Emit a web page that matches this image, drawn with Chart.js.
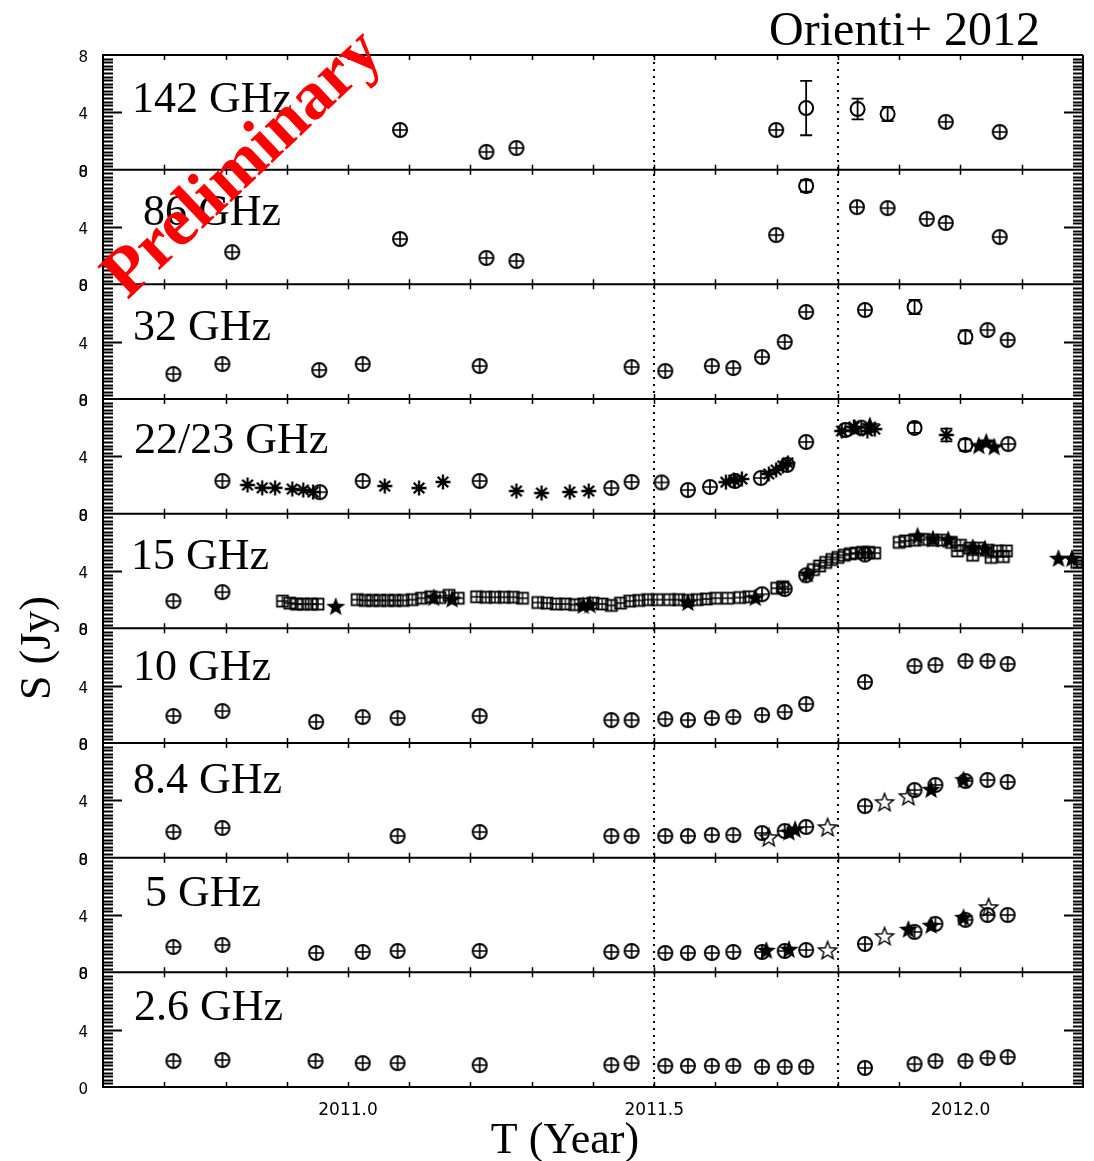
<!DOCTYPE html>
<html><head><meta charset="utf-8">
<script src="https://cdn.jsdelivr.net/npm/chart.js@4/dist/chart.umd.min.js"></script>
<style>html,body{margin:0;padding:0;background:#fff;overflow:hidden}#wrap{position:relative;width:1094px;height:1161px}</style>
</head><body><div id="wrap"><canvas id="c"></canvas></div>
<script>
// ---------- tick labels / annotations ----------
const xTickValues = [2011.0, 2011.5, 2012.0];
const markerYears = [2011.5, 2011.8];
const panelLabels = ['142 GHz','86 GHz','32 GHz','22/23 GHz','15 GHz','10 GHz','8.4 GHz','5 GHz','2.6 GHz'];

// ---------- data: [year, flux Jy, (error)] ----------
const s142_circ = [[2011.085,2.77],[2011.226,1.24],[2011.275,1.51],[2011.699,2.77],[2011.976,3.33],[2012.064,2.63]];
const s142_err  = [[2011.748,4.30,1.90],[2011.832,4.23,0.72],[2011.881,3.88,0.50]];

const s86_circ = [[2010.811,2.25],[2011.085,3.16],[2011.226,1.84],[2011.275,1.63],[2011.699,3.44],[2011.831,5.39],[2011.881,5.32],[2011.945,4.56],[2011.976,4.28],[2012.064,3.30]];
const s86_err  = [[2011.748,6.86,0.40]];

const s32_circ = [[2010.715,1.74],[2010.795,2.44],[2010.953,2.02],[2011.024,2.44],[2011.215,2.30],[2011.463,2.23],[2011.518,1.95],[2011.594,2.30],[2011.629,2.16],[2011.676,2.93],[2011.713,3.98],[2011.748,6.07],[2011.844,6.21],[2012.044,4.81],[2012.077,4.12]];
const s32_err  = [[2011.925,6.42,0.50],[2012.008,4.33,0.45]];

const s22_circ = [[2010.795,2.28],[2010.954,1.50],[2011.024,2.28],[2011.215,2.28],[2011.430,1.79],[2011.463,2.21],[2011.512,2.18],[2011.555,1.65],[2011.591,1.86],[2011.632,2.28],[2011.674,2.49],[2011.717,3.40],[2011.748,5.00],[2011.812,5.84],[2011.838,6.00],[2012.078,4.86]];
const s22_ast  = [[2010.836,2.00],[2010.860,1.80],[2010.881,1.80],[2010.909,1.72],[2010.927,1.65],[2010.943,1.51],[2011.060,1.93],[2011.116,1.79],[2011.155,2.21],[2011.275,1.58],[2011.316,1.44],[2011.362,1.51],[2011.393,1.58],[2011.617,2.20],[2011.630,2.35],[2011.643,2.42],[2011.687,2.77],[2011.699,3.05],[2011.710,3.33],[2011.718,3.54],[2011.806,5.77],[2011.826,6.05],[2011.848,5.77],[2011.860,5.90]];
const s22_astErr = [[2011.977,5.49,0.45]];
const s22_star = [[2011.828,5.90],[2011.852,6.10],[2012.030,4.70],[2012.042,4.95],[2012.055,4.62]];
const s22_err  = [[2011.925,5.98,0.35],[2012.008,4.79,0.40]];

const s15_circ = [[2010.715,1.90],[2010.795,2.53],[2011.676,2.38],[2011.713,2.74],[2011.748,3.70],[2011.844,5.15]];
const s15_sq = [[2010.893,1.90],[2010.905,1.76],[2010.916,1.69],[2010.927,1.69],[2010.940,1.69],[2010.951,1.69],
  [2011.015,2.00],[2011.028,1.95],[2011.040,1.95],[2011.052,1.95],[2011.065,1.95],[2011.077,1.95],
  [2011.090,1.95],[2011.105,2.00],[2011.120,2.10],[2011.135,2.20],[2011.150,2.15],[2011.165,2.30],[2011.180,2.10],
  [2011.210,2.20],[2011.225,2.17],[2011.240,2.17],[2011.255,2.17],[2011.270,2.17],[2011.285,2.10],
  [2011.310,1.80],[2011.325,1.76],[2011.340,1.70],[2011.355,1.70],[2011.370,1.65],[2011.385,1.70],[2011.400,1.76],[2011.415,1.70],[2011.430,1.60],[2011.445,1.76],[2011.460,1.90],[2011.475,1.95],[2011.490,2.00],[2011.505,2.00],
  [2011.525,2.00],[2011.540,2.00],[2011.555,1.95],[2011.570,2.00],[2011.585,2.05],[2011.600,2.10],[2011.620,2.10],[2011.640,2.15],[2011.655,2.20],
  [2011.700,2.80],[2011.710,2.90],
  [2011.760,4.10],[2011.770,4.35],[2011.780,4.60],[2011.790,4.80],[2011.800,4.95],[2011.810,5.10],[2011.820,5.20],[2011.830,5.25],[2011.840,5.30],[2011.850,5.30],[2011.860,5.25],
  [2011.900,6.00],[2011.910,6.10],[2011.925,6.15],[2011.940,6.20],[2011.955,6.15],[2011.970,6.15],[2011.985,6.00],[2012.000,5.80],[2012.015,5.60],[2012.030,5.60],[2012.045,5.45],[2012.060,5.40],[2012.075,5.40],
  [2011.995,5.40],[2012.020,5.10],[2012.050,4.95],[2012.070,5.00],[2012.190,4.60]];
const s15_star = [[2010.980,1.48],[2011.140,2.10],[2011.170,2.00],[2011.384,1.55],[2011.395,1.60],[2011.555,1.76],[2011.665,2.10],[2011.750,3.75],
  [2011.930,6.40],[2011.955,6.20],[2011.980,6.15],[2012.020,5.60],[2012.040,5.50],[2012.160,4.84],[2012.182,4.84]];

const s10_circ = [[2010.715,1.88],[2010.795,2.23],[2010.948,1.47],[2011.024,1.81],[2011.081,1.74],[2011.215,1.88],[2011.430,1.60],[2011.463,1.60],[2011.518,1.67],[2011.555,1.60],[2011.594,1.74],[2011.629,1.81],[2011.676,1.95],[2011.713,2.16],[2011.748,2.72],[2011.844,4.26],[2011.925,5.37],[2011.959,5.44],[2012.008,5.72],[2012.044,5.72],[2012.077,5.51]];

const s8_circ = [[2010.715,1.79],[2010.795,2.07],[2011.081,1.51],[2011.215,1.79],[2011.430,1.51],[2011.463,1.51],[2011.518,1.51],[2011.555,1.51],[2011.594,1.58],[2011.629,1.58],[2011.676,1.72],[2011.713,1.86],[2011.748,2.14],[2011.844,3.60],[2011.925,4.72],[2011.959,5.07],[2012.008,5.35],[2012.044,5.42],[2012.077,5.28]];
const s8_starO = [[2011.687,1.37],[2011.783,2.07],[2011.876,3.82],[2011.915,4.24]];
const s8_star  = [[2011.720,1.75],[2011.730,1.93],[2011.952,4.72],[2012.005,5.40]];

const s5_circ = [[2010.715,1.77],[2010.795,1.91],[2010.948,1.35],[2011.024,1.42],[2011.081,1.49],[2011.215,1.49],[2011.430,1.42],[2011.463,1.49],[2011.518,1.35],[2011.555,1.35],[2011.594,1.35],[2011.629,1.42],[2011.676,1.42],[2011.713,1.49],[2011.748,1.56],[2011.844,1.98],[2011.925,2.82],[2011.959,3.38],[2012.008,3.66],[2012.044,4.00],[2012.077,4.00]];
const s5_star  = [[2011.683,1.49],[2011.720,1.56],[2011.915,2.96],[2011.952,3.24],[2012.005,3.79]];
const s5_starO = [[2011.783,1.49],[2011.876,2.47],[2012.046,4.49]];

const s2_circ = [[2010.715,1.81],[2010.795,1.88],[2010.947,1.81],[2011.024,1.67],[2011.081,1.67],[2011.215,1.53],[2011.430,1.53],[2011.463,1.67],[2011.518,1.47],[2011.555,1.47],[2011.594,1.47],[2011.629,1.47],[2011.676,1.40],[2011.713,1.40],[2011.748,1.40],[2011.844,1.33],[2011.925,1.60],[2011.959,1.81],[2012.008,1.81],[2012.044,2.02],[2012.077,2.09]];

// ---------- marker images ----------
function mk(size, draw){ const c=document.createElement('canvas'); c.width=size; c.height=size; const g=c.getContext('2d'); g.strokeStyle='#000'; g.fillStyle='#000'; draw(g,size/2); return c; }
function starPath(g,m,ro,ri){ g.beginPath(); for(let k=0;k<10;k++){ const r=k%2?ri:ro; const a=-Math.PI/2+k*Math.PI/5; const px=m+r*Math.cos(a), py=m+r*Math.sin(a); k?g.lineTo(px,py):g.moveTo(px,py);} g.closePath(); }
const M = {
  circ: mk(20,(g,m)=>{ g.lineWidth=2; g.beginPath(); g.arc(m,m,7,0,2*Math.PI); g.stroke(); g.lineWidth=1.7; g.beginPath(); g.moveTo(m,m-7); g.lineTo(m,m+7); g.moveTo(m-7,m); g.lineTo(m+7,m); g.stroke(); }),
  sq: mk(16,(g,m)=>{ g.lineWidth=1.8; g.strokeRect(m-5.5,m-5.5,11,11); g.lineWidth=1.4; g.beginPath(); g.moveTo(m,m-5.5); g.lineTo(m,m+5.5); g.moveTo(m-5.5,m); g.lineTo(m+5.5,m); g.stroke(); }),
  ast: mk(20,(g,m)=>{ g.lineWidth=2.3; g.beginPath(); for(let k=0;k<4;k++){ const a=k*Math.PI/4; g.moveTo(m-7.5*Math.cos(a),m-7.5*Math.sin(a)); g.lineTo(m+7.5*Math.cos(a),m+7.5*Math.sin(a)); } g.stroke(); }),
  starF: mk(24,(g,m)=>{ starPath(g,m,10,4.2); g.fill(); }),
  starO: mk(24,(g,m)=>{ g.lineWidth=1.4; starPath(g,m,9.5,4); g.stroke(); })
};

// ---------- datasets ----------
const yIds = ['y0','y1','y2','y3','y4','y5','y6','y7','y8']; // top -> bottom
const panels = [
  {circ:s142_circ, err:s142_err},
  {circ:s86_circ, err:s86_err},
  {circ:s32_circ, err:s32_err},
  {circ:s22_circ, err:s22_err, ast:s22_ast, astErr:s22_astErr, star:s22_star},
  {circ:s15_circ, sq:s15_sq, star:s15_star},
  {circ:s10_circ},
  {circ:s8_circ, star:s8_star, starO:s8_starO},
  {circ:s5_circ, star:s5_star, starO:s5_starO},
  {circ:s2_circ}
];
const styles = {
  sq:{pointStyle:M.sq},
  circ:{pointStyle:M.circ},
  ast:{pointStyle:M.ast},
  astErr:{pointStyle:M.ast, errorBars:true},
  err:{pointStyle:'circle', pointRadius:7, pointBorderWidth:2, pointBorderColor:'#000', pointBackgroundColor:'rgba(0,0,0,0)', errorBars:true},
  starO:{pointStyle:M.starO},
  star:{pointStyle:M.starF}
};
const datasets = [];
panels.forEach((p,i)=>{
  Object.keys(styles).forEach(k=>{
    if(!p[k]) return;
    datasets.push(Object.assign({label:panelLabels[i]+' '+k, data:p[k].map(v=>({x:v[0],y:v[1],e:v[2]||0})), xAxisID:'x', yAxisID:yIds[i], pointRadius:8, pointHoverRadius:8, showLine:false, clip:false}, styles[k]));
  });
});

// ---------- scales ----------
const scales = {
  x: { type:'linear', position:'bottom', min:2010.6, max:2012.2,
       afterBuildTicks: s=>{ s.ticks = xTickValues.map(v=>({value:v})); },
       afterFit: s=>{ s.height = 40; },
       ticks:{ callback:v=>Number(v).toFixed(1), color:'#000', font:{family:'"DejaVu Sans", sans-serif', size:17}, padding:5, maxRotation:0, autoSkip:false },
       grid:{ display:false }, border:{ display:true, color:'#000', width:2 } }
};
for(let i=yIds.length-1;i>=0;i--){
  scales[yIds[i]] = { type:'linear', position:'left', stack:'panels', stackWeight:1, min:0, max:8, offset:false,
    afterFit: s=>{ s.width = 103; },
    afterBuildTicks: s=>{ s.ticks = [0,4,8].map(v=>({value:v})); },
    ticks:{ color:'#000', font:{family:'"DejaVu Sans", sans-serif', size:15}, padding:7, labelOffset:3, autoSkip:false, callback:v=>String(v) },
    grid:{ display:false }, border:{ display:true, color:'#000', width:2 } };
}

// ---------- plugins ----------
const errorBarPlugin = {
  id:'errbars',
  afterDatasetsDraw(chart){
    const ctx = chart.ctx, xs = chart.scales.x;
    ctx.save(); ctx.strokeStyle='#000'; ctx.lineWidth=1.8;
    chart.data.datasets.forEach(d=>{
      if(!d.errorBars) return;
      const ys = chart.scales[d.yAxisID];
      d.data.forEach(p=>{
        const x = xs.getPixelForValue(p.x), y1 = ys.getPixelForValue(p.y+p.e), y2 = ys.getPixelForValue(p.y-p.e);
        ctx.beginPath(); ctx.moveTo(x,y1); ctx.lineTo(x,y2);
        ctx.moveTo(x-6,y1); ctx.lineTo(x+6,y1); ctx.moveTo(x-6,y2); ctx.lineTo(x+6,y2); ctx.stroke();
      });
    });
    ctx.restore();
  }
};
function seg(ctx,x1,y1,x2,y2){ ctx.moveTo(x1,y1); ctx.lineTo(x2,y2); }
const framePlugin = {
  id:'frame',
  beforeDatasetsDraw(chart){
    const {ctx, chartArea:a, scales:s} = chart;
    ctx.save(); ctx.strokeStyle='#000'; ctx.lineWidth=2; ctx.setLineDash([2,5]);
    markerYears.forEach(v=>{ const x=Math.round(s.x.getPixelForValue(v)); ctx.beginPath(); seg(ctx,x,a.top,x,a.bottom); ctx.stroke(); });
    ctx.restore();
  },
  afterDraw(chart){
    const {ctx, chartArea:a, scales:s} = chart;
    ctx.save(); ctx.strokeStyle='#000';
    ctx.lineWidth=2; ctx.beginPath();
    yIds.forEach(id=>{ const sc=s[id]; const t=sc.getPixelForValue(8), b=sc.getPixelForValue(0); seg(ctx,a.left,t,a.right,t); seg(ctx,a.left,b,a.right,b); });
    seg(ctx,a.right,a.top,a.right,a.bottom);
    ctx.stroke();
    ctx.lineWidth=1.8; ctx.beginPath();
    yIds.forEach(id=>{ const sc=s[id];
      for(let k=1;k<32;k++){ const y=Math.round(sc.getPixelForValue(k*0.25))+0.5; const L=(k%16===0)?19:10;
        seg(ctx,a.left,y,a.left+L,y); seg(ctx,a.right-L,y,a.right,y); }
    });
    ctx.stroke();
    ctx.lineWidth=1.5; ctx.beginPath();
    yIds.forEach(id=>{ const sc=s[id]; const t=sc.getPixelForValue(8), b=sc.getPixelForValue(0);
      for(let k=1;k<16;k++){ const x=Math.round(s.x.getPixelForValue(2010.6+k*0.1))+0.5; seg(ctx,x,t,x,t+5); seg(ctx,x,b-5,x,b); }
    });
    ctx.stroke();
    ctx.fillStyle='#000'; ctx.textBaseline='alphabetic'; ctx.textAlign='left';
    ctx.font='44px "Liberation Serif", serif';
    const lx=[132,143,133,134,131,133,133,145,134], ly=[112,225,340,453,569,680,793,906,1020];
    panelLabels.forEach((t,i)=>ctx.fillText(t,lx[i],ly[i]));
    ctx.font='48px "Liberation Serif", serif';
    ctx.fillText('Orienti+ 2012',769,45);
    ctx.font='44px "Liberation Serif", serif'; ctx.textAlign='center';
    ctx.fillText('T (Year)',565,1153);
    ctx.save(); ctx.translate(50,648); ctx.rotate(-Math.PI/2); ctx.fillText('S (Jy)',0,0); ctx.restore();
    ctx.save(); ctx.translate(244,165); ctx.rotate(-43.5*Math.PI/180); ctx.fillStyle='#ff0000';
    ctx.font='bold 69px "Liberation Serif", serif'; ctx.textBaseline='middle'; ctx.fillText('Preliminary',0,0); ctx.restore();
    ctx.restore();
  }
};

new Chart(document.getElementById('c'), {
  type:'scatter',
  data:{ datasets },
  options:{
    responsive:true, maintainAspectRatio:false, animation:false, events:[],
    layout:{ padding:{ top:55, right:11, bottom:34, left:0 } },
    plugins:{ legend:{display:false}, tooltip:{enabled:false}, title:{display:false} },
    scales
  },
  plugins:[framePlugin, errorBarPlugin]
});
</script></body></html>
